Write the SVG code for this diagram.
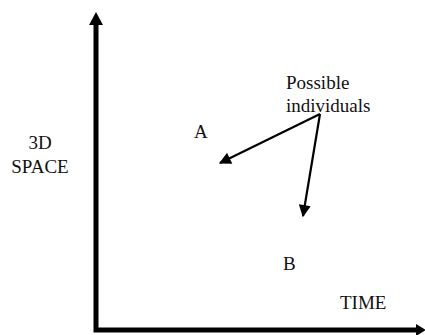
<svg xmlns="http://www.w3.org/2000/svg" width="425" height="335" viewBox="0 0 425 335">
<style>
text{font-family:'Liberation Serif','DejaVu Serif',serif;font-size:19px;fill:#111}
.axis{stroke:#000;stroke-width:5;fill:none}
.conn{stroke:#000;stroke-width:2.2;fill:none}
</style>
<defs>
<marker id="big" viewBox="0 0 10 10" refX="9" refY="5" markerWidth="14" markerHeight="12" markerUnits="userSpaceOnUse" orient="auto">
<path d="M0,0 L10,5 L0,10 z" fill="#000"/>
</marker>
</defs>
<rect width="425" height="335" fill="#fff"/>
<g id="axes">
<polyline class="axis" points="96,24 96,330 418,330"/>
<path d="M89,25 L96,12 L103,25 z" fill="#000"/>
<path d="M416,324 L426,330 L416,336 z" fill="#000"/>
</g>
<g id="labels">
<text x="40" y="149" text-anchor="middle" font-family="Liberation Serif, serif">3D</text>
<text x="40" y="173" text-anchor="middle" font-family="Liberation Serif, serif">SPACE</text>
<text x="340" y="309" font-size="18" font-family="Liberation Serif, serif">TIME</text>
</g>
<g id="possible">
<text x="286" y="89" font-family="Liberation Serif, serif">Possible</text>
<text x="286" y="112" font-family="Liberation Serif, serif">individuals</text>
</g>
<g id="A"><text x="194" y="138" font-family="Liberation Serif, serif">A</text></g>
<g id="B"><text x="283" y="270" font-family="Liberation Serif, serif">B</text></g>
<g id="connectors">
<line class="conn" x1="320" y1="114" x2="220" y2="163" marker-end="url(#big)"/>
<line class="conn" x1="320" y1="114" x2="303" y2="216" marker-end="url(#big)"/>
</g>
</svg>
